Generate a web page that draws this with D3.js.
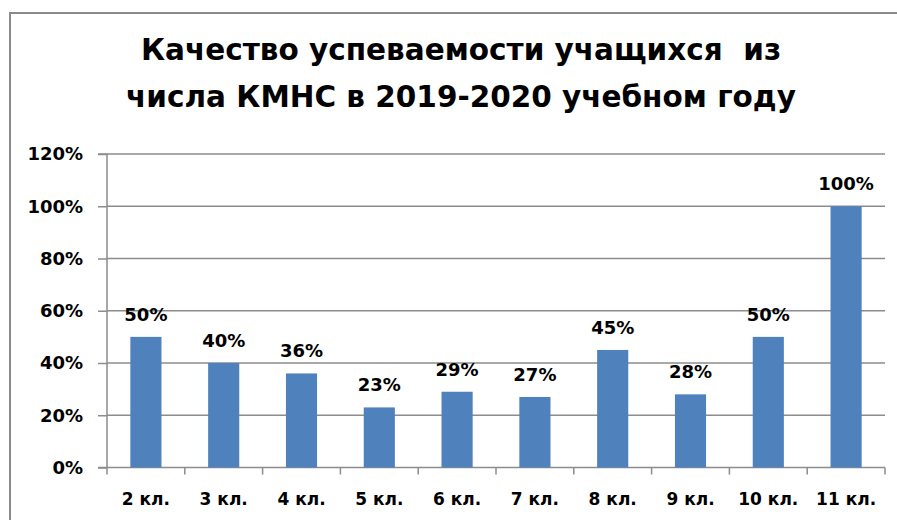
<!DOCTYPE html>
<html lang="ru">
<head>
<meta charset="UTF-8">
<title>Качество успеваемости</title>
<script src="https://cdnjs.cloudflare.com/ajax/libs/d3/7.8.5/d3.min.js"></script>
<style>
  body { margin: 0; background: #fff; }
  text { font-family: "DejaVu Sans", sans-serif; font-weight: bold; fill: #000; }
</style>
</head>
<body>
<script>
var classes = ["2 кл.", "3 кл.", "4 кл.", "5 кл.", "6 кл.", "7 кл.", "8 кл.", "9 кл.", "10 кл.", "11 кл."];
var quality = [0.50, 0.40, 0.36, 0.23, 0.29, 0.27, 0.45, 0.28, 0.50, 1.00];
var yTicks = [0, 0.2, 0.4, 0.6, 0.8, 1.0, 1.2];
var titleLines = ["Качество успеваемости учащихся  из", "числа КМНС в 2019-2020 учебном году"];

var width = 897, height = 520;
var plotLeft = 107, plotRight = 885, plotTop = 154, plotBottom = 467.5;

var svg = d3.select("body").append("svg")
    .attr("width", width).attr("height", height);

// chart frame
svg.append("rect")
    .attr("x", 10).attr("y", 13)
    .attr("width", 900).attr("height", 540)
    .attr("fill", "none").attr("stroke", "#8a8a8a").attr("stroke-width", 2);

// title
svg.append("g").selectAll("text").data(titleLines).enter().append("text")
    .attr("x", 461)
    .attr("y", function(d, i) { return 60 + i * 46.5; })
    .attr("text-anchor", "middle")
    .style("font-size", "29.5px")
    .style("white-space", "pre")
    .text(function(d) { return d; });

var x = d3.scaleBand().domain(classes).range([plotLeft, plotRight])
    .paddingInner(0.6).paddingOuter(0.3);
var y = d3.scaleLinear().domain([0, 1.2]).range([plotBottom, plotTop]);

// gridlines
svg.append("g").selectAll("line").data(yTicks.slice(1)).enter().append("line")
    .attr("x1", plotLeft).attr("x2", plotRight)
    .attr("y1", function(d) { return y(d); }).attr("y2", function(d) { return y(d); })
    .attr("stroke", "#8c8c8c").attr("stroke-width", 1.5);

// y axis
var yAxis = d3.axisLeft(y).tickValues(yTicks).tickFormat(d3.format(".0%"))
    .tickSize(9).tickPadding(15);
var yG = svg.append("g").attr("transform", "translate(" + plotLeft + ",0)").call(yAxis);
yG.selectAll("path, line").attr("stroke", "#8c8c8c").attr("stroke-width", 1.5);
yG.select("path").attr("d", "M-9," + plotTop + "H0V" + plotBottom + "H-9");
yG.selectAll("text").style("font-size", "18px").style("font-family", "DejaVu Sans").style("font-weight", "bold").attr("fill", "#000");

// x axis with ticks at band boundaries
var step = x.step();
var bounds = d3.range(classes.length + 1).map(function(i) { return plotLeft + i * step; });
var xG = svg.append("g");
xG.append("line").attr("x1", plotLeft).attr("x2", plotRight).attr("y1", plotBottom).attr("y2", plotBottom)
    .attr("stroke", "#8c8c8c").attr("stroke-width", 1.5);
xG.selectAll("line.tk").data(bounds).enter().append("line").attr("class", "tk")
    .attr("x1", function(d) { return d; }).attr("x2", function(d) { return d; })
    .attr("y1", plotBottom).attr("y2", plotBottom + 7)
    .attr("stroke", "#8c8c8c").attr("stroke-width", 1.5);
xG.selectAll("text").data(classes).enter().append("text")
    .attr("x", function(d) { return x(d) + x.bandwidth() / 2; })
    .attr("y", 505)
    .attr("text-anchor", "middle")
    .style("font-size", "17px")
    .text(function(d) { return d; });

// bars
svg.append("g").selectAll("rect").data(quality).enter().append("rect")
    .attr("x", function(d, i) { return x(classes[i]); })
    .attr("y", function(d) { return y(d); })
    .attr("width", x.bandwidth())
    .attr("height", function(d) { return plotBottom - y(d); })
    .attr("fill", "#4f81bd");

// data labels
svg.append("g").selectAll("text").data(quality).enter().append("text")
    .attr("x", function(d, i) { return x(classes[i]) + x.bandwidth() / 2; })
    .attr("y", function(d) { return y(d) - 16; })
    .attr("text-anchor", "middle")
    .style("font-size", "18px")
    .text(function(d) { return d3.format(".0%")(d); });
</script>
</body>
</html>
